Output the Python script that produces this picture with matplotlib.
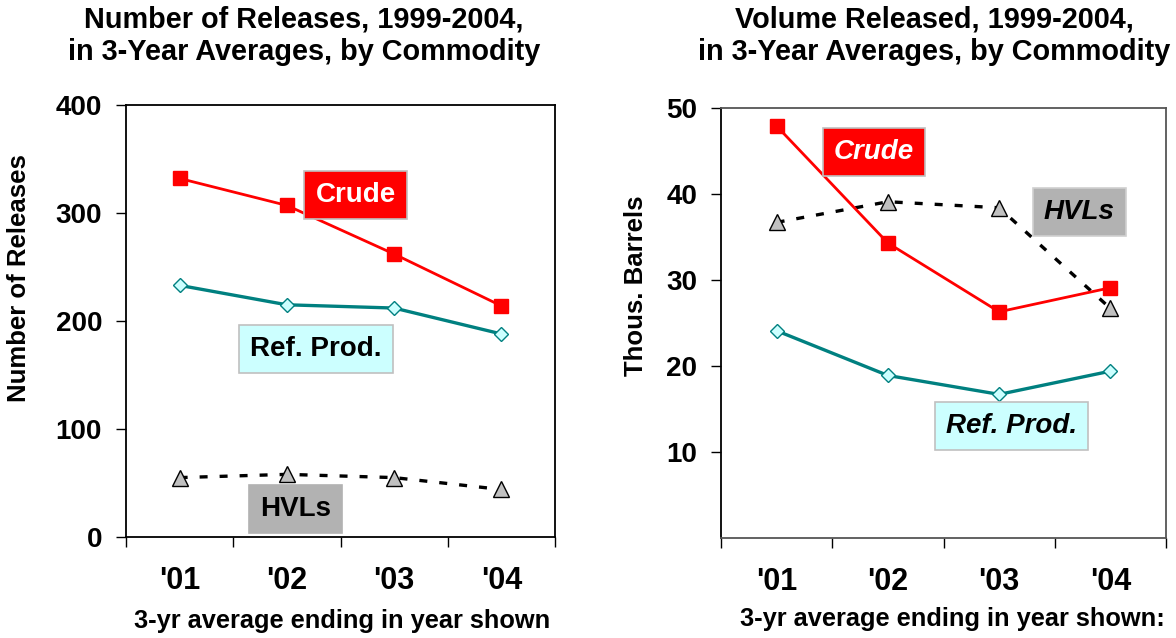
import numpy as np
import matplotlib
matplotlib.use("Agg")
import matplotlib.pyplot as plt

plt.rcParams["font.family"] = ["Liberation Sans", "DejaVu Sans"]
plt.rcParams["font.weight"] = "bold"

# ---------------------------------------------------------------------------
# Data
# ---------------------------------------------------------------------------
years = ["'01", "'02", "'03", "'04"]

# number of releases
crude_n = [332, 307, 262, 214]
refprod_n = [233, 215, 212, 188]
hvl_n = [55, 58, 55, 44]

# volume released, thous. barrels
crude_v = [47.9, 34.3, 26.3, 29.1]
refprod_v = [24.1, 18.9, 16.7, 19.4]
hvl_v = [36.7, 39.1, 38.4, 26.7]

RED, TEAL, CYAN, GREY = "#FF0000", "#008080", "#CCFFFF", "#B2B2B2"
NARROW = ["Liberation Sans Narrow", "Liberation Sans"]

fig = plt.figure(figsize=(11.76, 6.38), dpi=100)
W, H = 1176, 638
axL = fig.add_axes([126 / W, 101 / H, 429 / W, 432 / H])
axR = fig.add_axes([721 / W, 100 / H, 445 / W, 430 / H])

x = np.arange(len(years)) + 0.5


def draw(ax, crude, ref, hvl):
    ax.plot(x, hvl, color="black", lw=2.4, dashes=(2.4, 3.6), marker="^",
            ms=11, mfc="#C0C0C0", mec="black", mew=1.0, zorder=3)
    ax.plot(x, ref, color=TEAL, lw=2.4, marker="D", ms=7.2,
            mfc=CYAN, mec=TEAL, mew=1.0, zorder=4)
    ax.plot(x, crude, color=RED, lw=2.0, marker="s", ms=10,
            mfc=RED, mec=RED, zorder=5)
    ax.set_xlim(0, 4)
    ax.set_xticks(np.arange(5))
    ax.set_xticklabels([])
    ax.set_xticks(x, years, minor=True)
    ax.tick_params(axis="x", which="major", direction="out", length=7.2,
                   width=1.0)
    ax.tick_params(axis="x", which="minor", length=0, pad=21)
    for lab in ax.get_xticklabels(minor=True):
        lab.set_family(NARROW)
        lab.set_fontsize(22)
        lab.set_fontweight("bold")
    ax.tick_params(axis="y", direction="out", length=7.2, width=1.0,
                   pad=10, labelsize=20)


def box(ax, xd, yd, s, fc, tc, ec, italic=False):
    ax.text(xd, yd, s, ha="center", va="center", fontsize=20,
            fontweight="bold", color=tc,
            style="italic" if italic else "normal", zorder=6,
            bbox=dict(boxstyle="square,pad=0.4", fc=fc, ec=ec, lw=1.2))


# ---------------------------------------------------------------------------
# Left: number of releases
# ---------------------------------------------------------------------------
draw(axL, crude_n, refprod_n, hvl_n)
axL.set_ylim(0, 400)
axL.set_yticks([0, 100, 200, 300, 400])
for s in axL.spines.values():
    s.set_color("black")
    s.set_linewidth(1.3)
box(axL, 2.14, 317, "Crude", RED, "white", "#C0C0C0")
box(axL, 1.77, 174, "Ref. Prod.", CYAN, "black", "#C0C0C0")
box(axL, 1.58, 26, "HVLs", GREY, "black", GREY)

# ---------------------------------------------------------------------------
# Right: volume released
# ---------------------------------------------------------------------------
draw(axR, crude_v, refprod_v, hvl_v)
axR.set_ylim(0, 50)
axR.set_yticks([10, 20, 30, 40, 50])
for k, s in axR.spines.items():
    s.set_linewidth(1.3)
    s.set_color("black" if k == "left" else "#555555")
box(axR, 1.375, 44.9, "Crude", RED, "white", "#C0C0C0", italic=True)
box(axR, 3.22, 37.9, "HVLs", GREY, "black", "#D0D0D0", italic=True)
box(axR, 2.61, 13.0, "Ref. Prod.", CYAN, "black", "#C0C0C0", italic=True)

# titles and axis labels
fig.text(304 / W, 1 - 36 / H,
         "Number of Releases, 1999-2004,\nin 3-Year Averages, by Commodity",
         ha="center", va="center", fontsize=20.8, fontweight="bold",
         linespacing=1.2)
fig.text(934 / W, 1 - 36 / H,
         "Volume Released, 1999-2004,\nin 3-Year Averages, by Commodity",
         ha="center", va="center", fontsize=20.8, fontweight="bold",
         linespacing=1.2)
fig.text(19 / W, 1 - 278 / H, "Number of Releases", rotation=90,
         ha="center", va="center", fontsize=18.5, fontweight="bold")
fig.text(636 / W, 1 - 286 / H, "Thous. Barrels", rotation=90,
         ha="center", va="center", fontsize=18.5, fontweight="bold")
fig.text(342 / W, 1 - 621 / H, "3-yr average ending in year shown",
         ha="center", va="center", fontsize=18.3, fontweight="bold")
fig.text(952 / W, 1 - 619 / H, "3-yr average ending in year shown:",
         ha="center", va="center", fontsize=18.3, fontweight="bold")

fig.savefig("out.png", dpi=100)
